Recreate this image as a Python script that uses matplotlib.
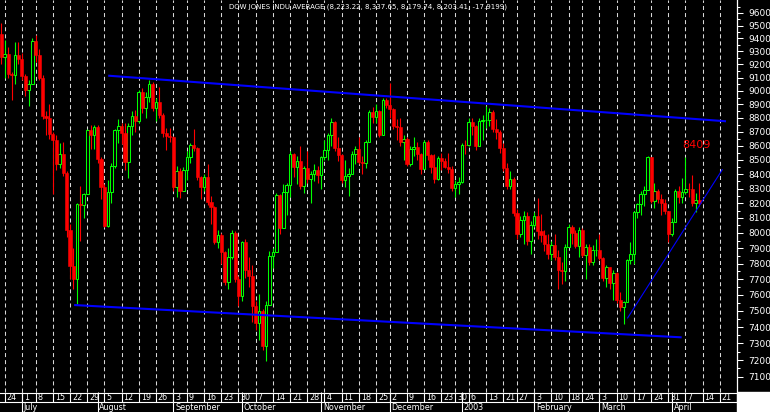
import matplotlib
matplotlib.use('Agg')
import matplotlib.pyplot as plt
import matplotlib.ticker as mtick
from matplotlib.patches import Rectangle
import numpy as np
import pandas as pd

plt.rcParams['font.family'] = ['DejaVu Sans']
plt.rcParams['lines.scale_dashes'] = False

# trading calendar 2002-06-21 .. 2003-04-11 (NYSE holidays removed)
holidays = ['2002-07-04', '2002-09-02', '2002-11-28', '2002-12-25',
            '2003-01-01', '2003-01-20', '2003-02-17']
days = pd.bdate_range('2002-06-21', '2003-04-11')
days = days[~days.isin(pd.to_datetime(holidays))]
future = pd.bdate_range('2003-04-14', '2003-04-28')  # empty slots on the right

# daily OHLC, one row per week
opens = [9431,
         9253, 9281, 9126, 9120, 9269,
         9243, 9110, 9008, 9055,
         9380, 9275, 9096, 8814, 8802,
         8685, 8639, 8473, 8542, 8409,
         8019, 7785, 7702, 8191, 8186,
         8264, 8712, 8680, 8737, 8507,
         8313, 8044, 8274, 8456, 8712,
         8745, 8689, 8482, 8743, 8818,
         8778, 8991, 8872, 8957, 9054,
         8873, 8919, 8824, 8694, 8670,
         8664, 8308, 8425, 8284,
         8427, 8519, 8603, 8581, 8379,
         8313, 8380, 8208, 8172, 7942,
         7986, 7872, 7683, 7842, 7997,
         7701, 7592, 7939, 7756, 7717,
         7528, 7423, 7501, 7286, 7534,
         7850, 7877, 8256, 8036, 8275,
         8322, 8538, 8450, 8494, 8317,
         8444, 8368, 8400, 8427, 8397,
         8518, 8572, 8678, 8771, 8586,
         8537, 8359, 8386, 8398, 8542,
         8579, 8487, 8475, 8623, 8845,
         8805, 8849, 8676, 8932,
         8896, 8863, 8743, 8738, 8623,
         8646, 8473, 8574, 8589, 8538,
         8434, 8627, 8535, 8447, 8365,
         8511, 8493, 8448, 8433,
         8304, 8333, 8342, 8608,
         8602, 8774, 8741, 8595, 8776,
         8785, 8785, 8843, 8723, 8698,
         8587, 8443, 8319, 8369,
         8131, 7990, 8089, 8111, 7945,
         8054, 8110, 8013, 7985, 7929,
         7864, 7920, 7843, 7758, 7750,
         7909, 8041, 8001, 7915,
         8018, 7858, 7910, 7807, 7885,
         7891, 7838, 7705, 7776, 7674,
         7740, 7568, 7524, 7552, 7822,
         7860, 8142, 8194, 8265, 8287,
         8522, 8215, 8280, 8230, 8201,
         8146, 7992, 8070, 8285, 8240,
         8277, 8300, 8299, 8198, 8223.22]

highs = [9520,
         9390, 9330, 9140, 9370, 9375,
         9290, 9130, 9080, 9400,
         9430, 9320, 9120, 8850, 8900,
         8700, 8680, 8620, 8630, 8420,
         8060, 7900, 8200, 8320, 8270,
         8720, 8750, 8750, 8750, 8520,
         8330, 8360, 8480, 8720, 8790,
         8760, 8760, 8760, 8850, 8860,
         9010, 9020, 8990, 9080, 9070,
         8950, 9030, 8840, 8730, 8730,
         8670, 8460, 8440, 8450,
         8560, 8620, 8720, 8590, 8390,
         8400, 8470, 8250, 8180, 8020,
         8000, 7880, 7900, 8020, 8010,
         7720, 7950, 7960, 7840, 7790,
         7560, 7606, 7510, 7560, 7880,
         7900, 8270, 8260, 8330, 8340,
         8560, 8550, 8530, 8600, 8460,
         8560, 8420, 8470, 8460, 8530,
         8640, 8690, 8800, 8780, 8660,
         8540, 8500, 8440, 8560, 8600,
         8660, 8530, 8640, 8860, 8880,
         8900, 8860, 8950, 8950,
         9059, 8870, 8790, 8800, 8680,
         8660, 8600, 8660, 8630, 8550,
         8640, 8640, 8540, 8540, 8530,
         8550, 8510, 8550, 8460,
         8360, 8380, 8620, 8640,
         8800, 8800, 8750, 8800, 8820,
         8890, 8870, 8860, 8790, 8710,
         8620, 8480, 8420, 8380,
         8160, 8110, 8150, 8140, 8080,
         8140, 8235, 8130, 8020, 7990,
         7950, 7990, 7890, 7810, 7930,
         8060, 8050, 8020, 8040,
         8030, 7930, 7930, 7920, 7960,
         7990, 7840, 7790, 7780, 7760,
         7745, 7620, 7560, 7830, 7940,
         8150, 8200, 8280, 8320, 8530,
         8522, 8340, 8300, 8260, 8230,
         8150, 8100, 8300, 8320, 8370,
         8522, 8340, 8396, 8270, 8337.65]

lows = [9200,
        9100, 9100, 8930, 9050, 9200,
        9080, 8960, 8890, 9055,
        9220, 9080, 8790, 8680, 8650,
        8260, 8430, 8440, 8390, 7970,
        7700, 7640, 7540, 7950, 8100,
        8264, 8580, 8580, 8480, 8230,
        8040, 8040, 8200, 8440, 8620,
        8610, 8430, 8370, 8680, 8700,
        8760, 8840, 8800, 8920, 8850,
        8780, 8800, 8660, 8570, 8630,
        8280, 8240, 8235, 8284,
        8360, 8480, 8560, 8360, 8230,
        8280, 8190, 8060, 7930, 7900,
        7800, 7660, 7640, 7830, 7680,
        7530, 7560, 7710, 7650, 7430,
        7380, 7320, 7260, 7197, 7534,
        7770, 7877, 7990, 8036, 8120,
        8240, 8380, 8330, 8300, 8270,
        8340, 8200, 8350, 8340, 8300,
        8500, 8500, 8600, 8560, 8490,
        8340, 8310, 8250, 8398, 8470,
        8470, 8400, 8440, 8623, 8760,
        8760, 8660, 8676, 8870,
        8800, 8720, 8640, 8600, 8500,
        8460, 8460, 8530, 8500, 8400,
        8434, 8500, 8410, 8340, 8360,
        8430, 8440, 8410, 8280,
        8240, 8260, 8340, 8540,
        8600, 8680, 8570, 8595, 8640,
        8730, 8740, 8700, 8650, 8550,
        8420, 8300, 8300, 8110,
        7960, 7970, 7930, 7920, 7860,
        8040, 7960, 7940, 7880, 7830,
        7820, 7820, 7640, 7670, 7690,
        7909, 7930, 7900, 7840,
        7840, 7700, 7790, 7790, 7850,
        7820, 7690, 7650, 7640, 7565,
        7550, 7500, 7417, 7552, 7800,
        7800, 8100, 8120, 8180, 8287,
        8200, 8170, 8200, 8120, 8130,
        7940, 7980, 8070, 8200, 8200,
        8260, 8240, 8180, 8140, 8179.74]

closes = [9253,
          9281, 9126, 9120, 9269, 9243,
          9110, 9008, 9055, 9380,
          9275, 9096, 8814, 8802, 8685,
          8639, 8473, 8542, 8409, 8019,
          7785, 7702, 8191, 8186, 8264,
          8712, 8680, 8737, 8507, 8313,
          8044, 8274, 8456, 8712, 8745,
          8689, 8482, 8743, 8818, 8778,
          8991, 8872, 8957, 9054, 8873,
          8919, 8824, 8694, 8670, 8664,
          8308, 8425, 8284, 8427,
          8519, 8603, 8581, 8379, 8313,
          8380, 8208, 8172, 7942, 7986,
          7872, 7683, 7842, 7997, 7701,
          7592, 7939, 7756, 7717, 7528,
          7423, 7501, 7286, 7534, 7850,
          7877, 8256, 8036, 8275, 8322,
          8538, 8450, 8494, 8317, 8444,
          8368, 8400, 8427, 8397, 8518,
          8572, 8678, 8771, 8586, 8537,
          8359, 8386, 8398, 8542, 8579,
          8487, 8475, 8623, 8845, 8805,
          8849, 8676, 8932, 8896,
          8863, 8743, 8738, 8623, 8646,
          8473, 8574, 8589, 8538, 8434,
          8627, 8535, 8447, 8365, 8511,
          8493, 8448, 8433, 8304,
          8333, 8342, 8608, 8602,
          8774, 8741, 8595, 8776, 8785,
          8785, 8843, 8723, 8698, 8587,
          8443, 8319, 8369, 8131,
          7990, 8089, 8111, 7945, 8054,
          8110, 8013, 7985, 7929, 7864,
          7920, 7843, 7758, 7750, 7909,
          8041, 8001, 7915, 8018,
          7858, 7910, 7807, 7885, 7891,
          7838, 7705, 7776, 7674, 7740,
          7568, 7524, 7552, 7822, 7860,
          8142, 8194, 8265, 8287, 8522,
          8215, 8280, 8230, 8201, 8146,
          7992, 8070, 8285, 8240, 8277,
          8300, 8299, 8198, 8221, 8203.41]

# trend lines drawn on the chart: (bar position, price)
upper_line = [(31.1, 9114), (210.8, 8776)]
lower_line = [(21.2, 7536), (197.9, 7337)]
rise_line = [(182.1, 7453), (209.8, 8434)]

yticks = list(range(7100, 9700, 100))
month_names = {1: '2003', 2: 'February', 3: 'March', 4: 'April', 7: 'July',
               8: 'August', 9: 'September', 10: 'October', 11: 'November',
               12: 'December'}

o = np.array(opens, float)
h = np.array(highs, float)
l = np.array(lows, float)
c = np.array(closes, float)
x = np.arange(len(days))
up = c >= o

slots = days.append(future)
sx = np.arange(len(slots))
wd = np.array(slots.weekday)
mo = np.array(slots.month)
week_start = [i for i in range(1, len(slots)) if wd[i] < wd[i - 1]]
month_start = [i for i in range(1, len(slots)) if mo[i] != mo[i - 1]]

X0, X1 = -0.37, 214.0
GREEN = '#00ff00'
RED = '#ff0000'

fig = plt.figure(figsize=(7.7, 4.12), dpi=100, facecolor='black')
ax = fig.add_axes([0, 20 / 412, 737 / 770, 392 / 412], facecolor='black')

for i in week_start:
    if sx[i] < X1 - 0.5:
        ax.axvline(sx[i], color='#d8d8d8', lw=0.75, dashes=(2.9, 2.2), zorder=1)

# wicks
ax.vlines(x[up], l[up], h[up], color=GREEN, lw=0.8, zorder=2)
ax.vlines(x[~up], l[~up], h[~up], color=RED, lw=0.8, zorder=2)
# bodies
bot = np.minimum(o, c)
hgt = np.abs(c - o)
ax.bar(x[up], hgt[up], bottom=bot[up], width=0.78, facecolor='black',
       edgecolor=GREEN, lw=0.75, zorder=3)
ax.bar(x[~up], hgt[~up], bottom=bot[~up], width=0.9, facecolor=RED,
       edgecolor=RED, lw=0.4, zorder=3)

for line, lw in [(upper_line, 1.5), (lower_line, 1.5), (rise_line, 0.8)]:
    ax.plot([p[0] for p in line], [p[1] for p in line], color='#0000ff',
            lw=lw, zorder=4, solid_capstyle='butt')

ax.set_yscale('log')
ax.set_xlim(X0, X1)
ax.set_ylim(7012, 9704)
ax.yaxis.set_major_locator(mtick.FixedLocator(yticks))
ax.yaxis.set_major_formatter(mtick.FuncFormatter(lambda v, p: '%d' % v))
ax.yaxis.set_minor_locator(mtick.FixedLocator([t + 50 for t in yticks]))
ax.yaxis.set_minor_formatter(mtick.NullFormatter())
ax.yaxis.tick_right()
ax.tick_params(axis='y', which='major', colors='white', length=4, width=0.75,
               labelsize=6.5, pad=4)
ax.tick_params(axis='y', which='minor', colors='white', length=2, width=0.75)
ax.set_xticks([])
for s in ['top', 'left', 'bottom']:
    ax.spines[s].set_visible(False)
ax.spines['right'].set_color('white')
ax.spines['right'].set_linewidth(0.9)

# date strip
ax2 = fig.add_axes([0, 0, 737 / 770, 20 / 412], facecolor='black')
ax2.set_xlim(X0, X1)
ax2.set_ylim(0, 20)
ax2.axis('off')
ax2.add_patch(Rectangle((X0, 0), X1 - X0, 20, color='black', zorder=0))
ax2.axhline(19.5, color='white', lw=0.8)
ax2.axhline(9.6, color='white', lw=0.8)
for i in week_start:
    ax2.vlines(sx[i], 10, 20, color='white', lw=0.8)
    ax2.text(sx[i] + 0.55, 14.6, str(slots[i].day), color='white',
             fontsize=5.8, ha='left', va='center')
for i in month_start:
    ax2.vlines(sx[i], 0, 10, color='white', lw=0.8)
    ax2.vlines(sx[i], 10, 20, color='white', lw=0.8)
    ax2.text(sx[i] + 0.55, 4.6, month_names[slots[i].month], color='white',
             fontsize=5.8, ha='left', va='center')

fig.add_artist(Rectangle((737 / 770, 0), 33 / 770, 20 / 412,
                         transform=fig.transFigure, color='white'))

fig.text(368 / 770, 1 - 7 / 412,
         'DOW JONES INDU AVERAGE (8,223.22, 8,337.65, 8,179.74, 8,203.41, -17.9199)',
         color='white', fontsize=5.0, ha='center', va='center')
fig.text(696 / 770, 1 - 145 / 412, '8409', color=RED, fontsize=8,
         ha='center', va='center')

fig.savefig('out.png', dpi=100, facecolor='black')
